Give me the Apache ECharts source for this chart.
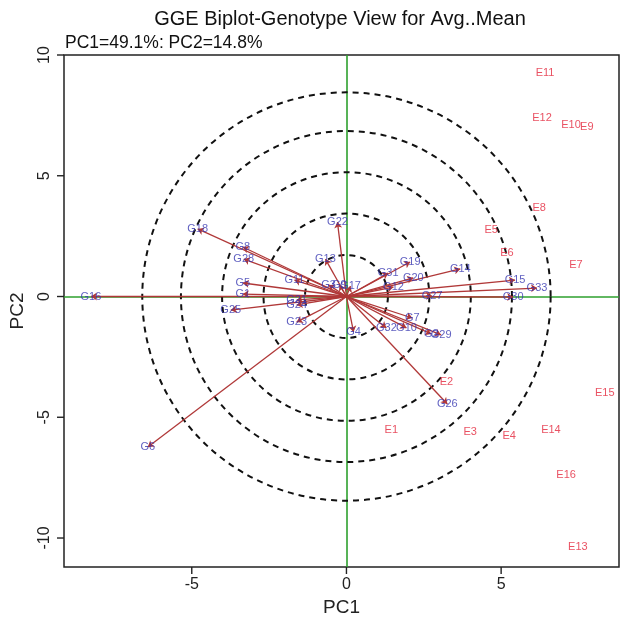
<!DOCTYPE html>
<html><head><meta charset="utf-8">
<script src="https://cdn.jsdelivr.net/npm/echarts@6/dist/echarts.min.js"></script>
<style>html,body{margin:0;padding:0;background:#fff}#c{width:621px;height:625px}</style>
</head><body><div id="c"></div>
<script>
// Genotype scores (vectors from origin)
const genotypes = ['G16','G6','G18','G8','G28','G5','G1','G25','G11','G21','G24','G23','G13','G22','G3','G9','G17','G4','G32','G10','G7','G2','G29','G26','G31','G20','G19','G14','G15','G33','G30','G27','G12'];
const genoPC1 = [-8.26,-6.42,-4.81,-3.35,-3.32,-3.35,-3.35,-3.74,-1.68,-1.61,-1.61,-1.61,-0.68,-0.29,-0.58,-0.23,0.13,0.23,1.29,1.94,2.13,2.74,3.06,3.26,1.35,2.16,2.06,3.68,5.45,6.16,5.39,2.77,1.52];
const genoPC2 = [0.00,-6.23,2.80,2.05,1.55,0.56,0.10,-0.56,0.68,-0.14,-0.35,-1.06,1.55,3.08,0.48,0.48,0.43,-1.47,-1.30,-1.30,-0.89,-1.55,-1.59,-4.45,0.97,0.77,1.43,1.14,0.68,0.35,-0.02,0.02,0.39];
// Environment scores
const envs = ['E1','E2','E3','E4','E5','E6','E7','E8','E9','E10','E11','E12','E13','E14','E15','E16'];
const envPC1 = [1.45,3.23,4.00,5.26,4.68,5.19,7.42,6.23,7.77,7.26,6.42,6.32,7.48,6.61,8.35,7.10];
const envPC2 = [-5.53,-3.54,-5.61,-5.78,2.75,1.80,1.30,3.66,7.02,7.10,9.25,7.39,-10.37,-5.53,-4.00,-7.39];
// Axis ticks
const xTicks = [-5, 0, 5];
const yTicks = [-10, -5, 0, 5, 10];
// Concentric circle radii (PC1 units)
const ringRadii = [1.34, 2.68, 4.02, 5.35, 6.60];

const FONT = 'Liberation Sans, Arial, sans-serif';
const X_MIN = -9.13, X_MAX = 8.81, Y_MIN = -11.2, Y_MAX = 10.0;
const chart = echarts.init(document.getElementById('c'), null, {renderer: 'canvas'});

const baseGraphic = [
  {id: 'title', type: 'text', x: 340, y: 19, z: 100, style: {text: 'GGE Biplot-Genotype View for Avg..Mean', font: '20px ' + FONT, fill: '#111', textAlign: 'center', textVerticalAlign: 'middle'}},
  {id: 'subtitle', type: 'text', x: 65, y: 43, z: 100, style: {text: 'PC1=49.1%: PC2=14.8%', font: '17.5px ' + FONT, fill: '#111', textAlign: 'left', textVerticalAlign: 'middle'}}
];

const option = {
  animation: false,
  backgroundColor: '#fff',
  textStyle: {fontFamily: FONT},
  graphic: baseGraphic,
  grid: {left: 63, right: 2, top: 55, bottom: 58, show: true, borderColor: '#222', borderWidth: 1.5, backgroundColor: 'transparent'},
  xAxis: {
    type: 'value', min: X_MIN, max: X_MAX, position: 'bottom',
    name: 'PC1', nameLocation: 'middle', nameGap: 30,
    nameTextStyle: {fontSize: 19, color: '#222', fontFamily: FONT},
    axisLine: {show: false, onZero: false},
    axisTick: {show: false},
    axisLabel: {customValues: xTicks, fontSize: 16, color: '#222', margin: 10, fontFamily: FONT},
    splitLine: {show: false}
  },
  yAxis: {
    type: 'value', min: Y_MIN, max: Y_MAX, position: 'left',
    name: 'PC2', nameLocation: 'middle', nameGap: 37, nameRotate: 90,
    nameTextStyle: {fontSize: 19, color: '#222', fontFamily: FONT},
    axisLine: {show: false, onZero: false},
    axisTick: {show: false},
    axisLabel: {customValues: yTicks, fontSize: 16, color: '#222', margin: 11, rotate: 90, fontFamily: FONT},
    splitLine: {show: false}
  },
  series: [
    {
      type: 'custom', name: 'rings', z: 3, silent: true,
      data: ringRadii.map(r => [r, 0]),
      encode: {x: 0, y: 1},
      renderItem: function (params, api) {
        const c = api.coord([0, 0]);
        const r = api.size([api.value(0), 0])[0];
        return {type: 'circle', shape: {cx: c[0], cy: c[1], r: r},
          style: {fill: null, stroke: '#111', lineWidth: 2, lineDash: [6, 5]}};
      }
    },
    {
      type: 'lines', name: 'vectors', coordinateSystem: 'cartesian2d', z: 4, silent: true,
      symbol: ['none', 'arrow'], symbolSize: 6,
      lineStyle: {color: '#b03838', width: 1.3, opacity: 1},
      data: genotypes.map((g, i) => ({coords: [[0, 0], [genoPC1[i], genoPC2[i]]]})),
      markLine: {
        silent: true, symbol: 'none', z: 2,
        lineStyle: {color: '#2ea02e', width: 1.6, type: 'solid'},
        label: {show: false},
        data: [{xAxis: 0}, {yAxis: 0}]
      }
    },
    {
      type: 'scatter', name: 'genotypes', z: 6, symbolSize: 0, silent: true,
      data: genotypes.map((g, i) => ({name: g, value: [genoPC1[i], genoPC2[i]]})),
      label: {show: true, position: 'inside', formatter: '{b}', color: '#3636b0', fontSize: 11, fontFamily: FONT}
    },
    {
      type: 'scatter', name: 'environments', z: 6, symbolSize: 0, silent: true,
      data: envs.map((e, i) => ({name: e, value: [envPC1[i], envPC2[i]]})),
      label: {show: true, position: 'inside', formatter: '{b}', color: '#e3263b', fontSize: 11, fontFamily: FONT}
    }
  ]
};
chart.setOption(option);

// Axis tick marks outside the frame, positioned through the axis scales
const tickGraphic = [];
xTicks.forEach((v, i) => {
  const p = chart.convertToPixel({gridIndex: 0}, [v, Y_MIN]);
  tickGraphic.push({id: 'xt' + i, type: 'line', z: 100, silent: true,
    shape: {x1: p[0], y1: p[1], x2: p[0], y2: p[1] + 7}, style: {stroke: '#222', lineWidth: 1.4}});
});
yTicks.forEach((v, i) => {
  const p = chart.convertToPixel({gridIndex: 0}, [X_MIN, v]);
  tickGraphic.push({id: 'yt' + i, type: 'line', z: 100, silent: true,
    shape: {x1: p[0], y1: p[1], x2: p[0] - 7, y2: p[1]}, style: {stroke: '#222', lineWidth: 1.4}});
});
chart.setOption({graphic: baseGraphic.concat(tickGraphic)});
</script>
</body></html>
